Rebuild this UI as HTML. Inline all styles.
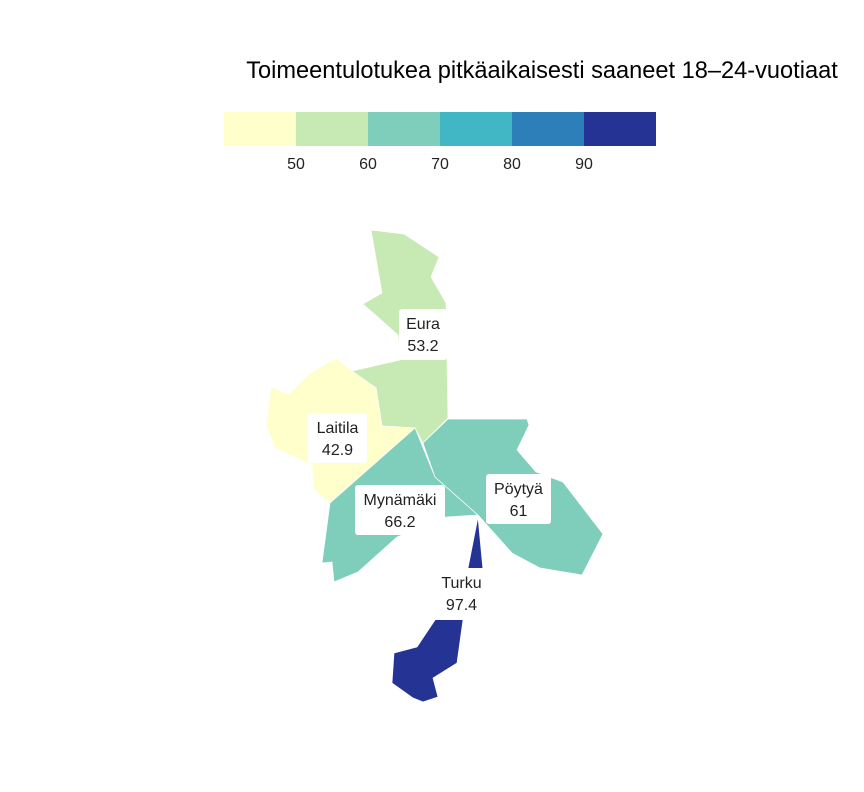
<!DOCTYPE html>
<html><head><meta charset="utf-8"><style>
body{margin:0;background:#fff;}
svg{display:block;font-family:"Liberation Sans","DejaVu Sans",sans-serif;}
</style></head><body>
<svg width="864" height="792">
<text x="542" y="78" font-size="23.6" text-anchor="middle" fill="#000">Toimeentulotukea pitkäaikaisesti saaneet 18–24-vuotiaat</text>
<g id="legend"></g>
<g id="map"></g>
<g id="labels"></g>
</svg>
<script>
const names=["Eura","Laitila","Mynämäki","Pöytyä","Turku"];
const values=[53.2,42.9,66.2,61,97.4];
const breaks=[50,60,70,80,90];
const colors=["#ffffcc","#c7e9b4","#7fcdbb","#41b6c4","#2c7fb8","#253494"];
const shapes=[
 [[371,230],[404,234],[439,257],[431,277],[446,303],[448,418],[423,443],[415,428],[382,426],[376,388],[352,371],[400,360],[398,335],[363,304],[382,293]],
 [[352,371],[336,358],[309,374],[289,394],[271,387],[266,425],[275,448],[312,465],[314,490],[330,503],[415,428],[382,426],[376,388]],
 [[415,428],[330,503],[322,563],[332,562],[334,582],[358,572],[397,537],[447,517],[478,515],[435,477]],
 [[423,443],[448,419],[527,419],[529,425],[517,450],[536,472],[563,482],[603,534],[582,575],[540,568],[512,553],[478,515],[435,477]],
 [[478,517],[483,570],[463,620],[457,663],[433,678],[438,697],[423,702],[413,698],[392,683],[394,653],[417,647],[435,620],[468,568]]
];
const boxes=[[399,309,48,51],[308,413,59,50],[355,485,90,50],[486,474,65,50],[433,568,57,52]];
const ns="http://www.w3.org/2000/svg";
function colorFor(v){let i=0;while(i<breaks.length&&v>=breaks[i])i++;return colors[i];}
const lg=document.getElementById('legend');
colors.forEach((c,i)=>{const r=document.createElementNS(ns,'rect');


r.setAttribute('x',224+i*72);r.setAttribute('y',112);r.setAttribute('width',72);r.setAttribute('height',34);r.setAttribute('fill',c);lg.appendChild(r);});
breaks.forEach((b,i)=>{const t=document.createElementNS(ns,'text');


t.setAttribute('x',296+i*72);t.setAttribute('y',169);t.setAttribute('font-size','16');t.setAttribute('text-anchor','middle');t.setAttribute('fill','#222');t.textContent=b;lg.appendChild(t);});
const mg=document.getElementById('map'),lb=document.getElementById('labels');
shapes.forEach((s,i)=>{const p=document.createElementNS(ns,'polygon');


p.setAttribute('points',s.map(q=>q.join(',')).join(' '));p.setAttribute('fill',colorFor(values[i]));p.setAttribute('stroke','#fff');p.setAttribute('stroke-width','0.7');mg.appendChild(p);});
boxes.forEach((b,i)=>{const r=document.createElementNS(ns,'rect');


r.setAttribute('x',b[0]);r.setAttribute('y',b[1]);r.setAttribute('width',b[2]);r.setAttribute('height',b[3]);r.setAttribute('rx',3);r.setAttribute('fill','#fff');lb.appendChild(r);
const cx=b[0]+b[2]/2;
[names[i],String(values[i])].forEach((s,k)=>{const t=document.createElementNS(ns,'text');


t.setAttribute('x',cx);t.setAttribute('y',b[1]+20+k*22);t.setAttribute('font-size','16');t.setAttribute('text-anchor','middle');t.setAttribute('fill','#222');t.textContent=s;lb.appendChild(t);});});
</script>
</body></html>
